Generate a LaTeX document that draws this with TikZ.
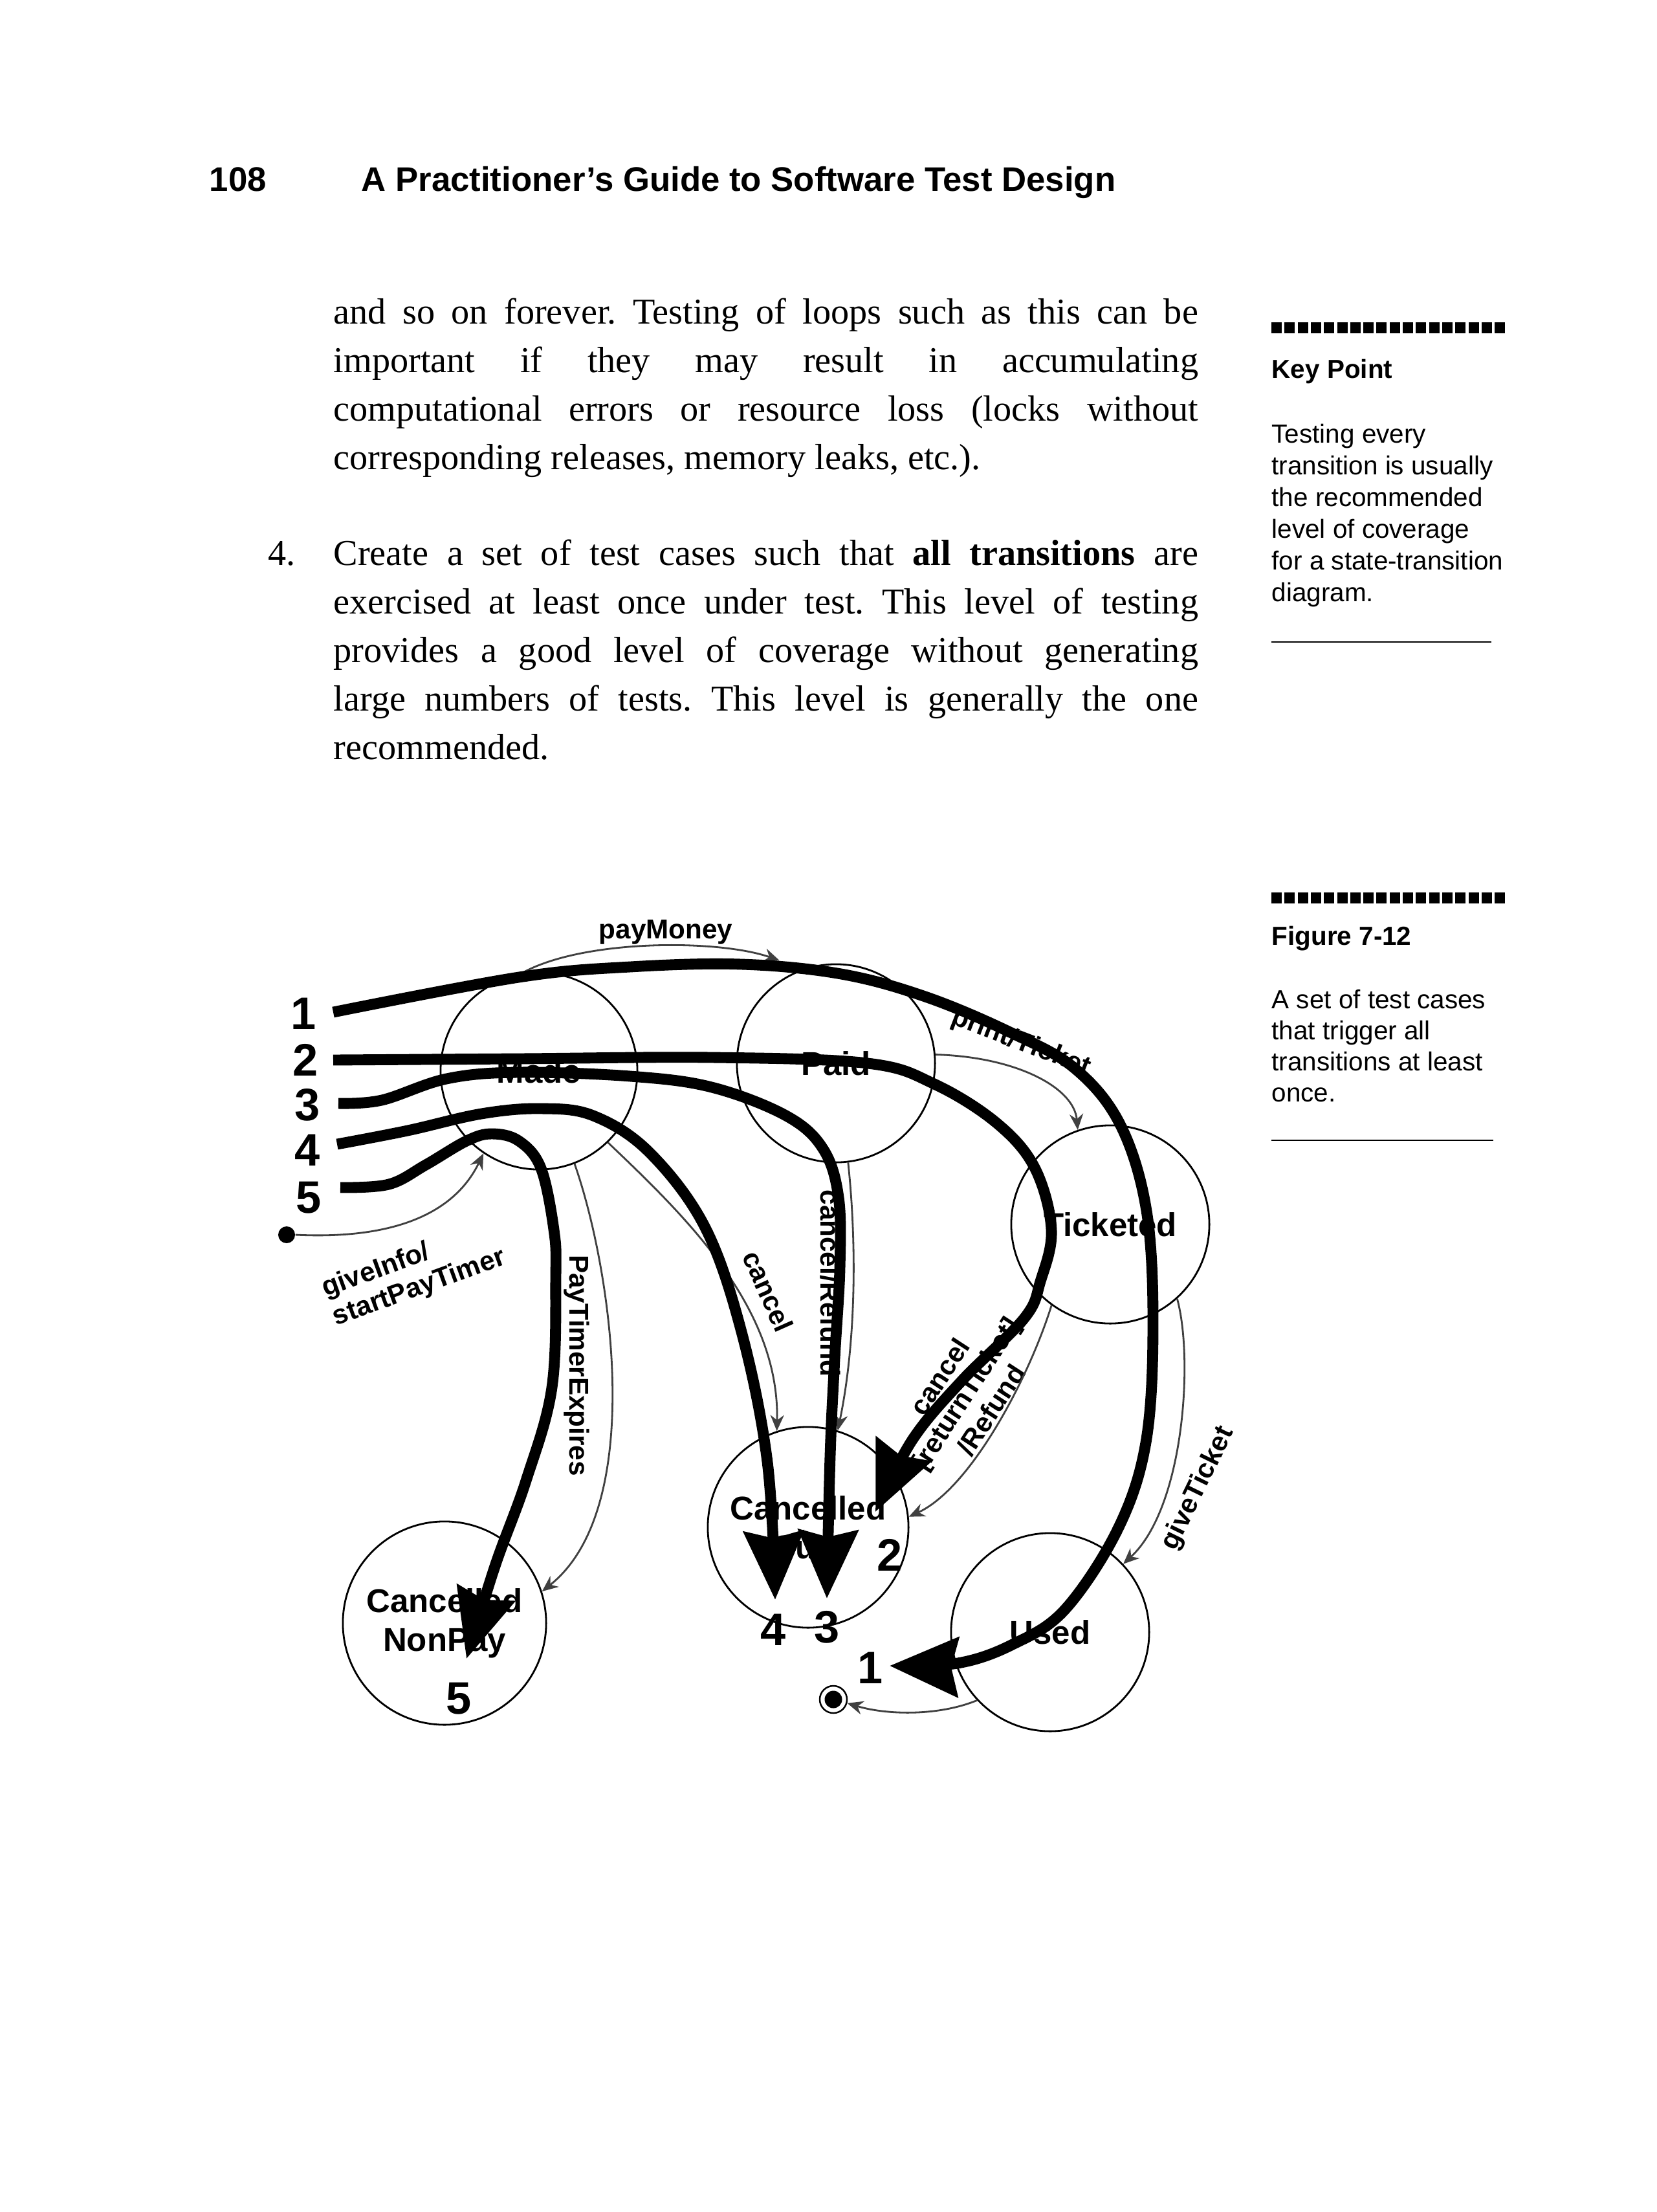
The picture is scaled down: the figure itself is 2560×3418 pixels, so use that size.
\documentclass[tikz,border=0pt]{standalone}
\usepackage{fontspec}
\setmainfont{Liberation Serif}
\newfontfamily\sansf{Liberation Sans}
\usetikzlibrary{arrows.meta}
\newcommand\jl[1]{\makebox[380pt][s]{#1}}
\frenchspacing
\begin{document}
\begin{tikzpicture}[x=0.01cm, y=-0.01cm,
  body/.style={anchor=base west, inner sep=0pt, font=\fontsize{16}{21}\selectfont},
  side/.style={anchor=base west, inner sep=0pt, font=\sansf\fontsize{11.5}{14}\selectfont},
  sidehead/.style={anchor=base west, inner sep=0pt, font=\sansf\bfseries\fontsize{11.5}{14}\selectfont},
  head/.style={anchor=base west, inner sep=0pt, font=\sansf\bfseries\fontsize{15}{15}\selectfont},
  state/.style={circle, draw, line width=0.8pt, inner sep=0pt, align=center,
    font=\sansf\bfseries\fontsize{14.5}{17}\selectfont},
  lab/.style={inner sep=1pt, font=\sansf\bfseries\fontsize{12}{13.5}\selectfont},
  num/.style={inner sep=0pt, font=\sansf\bfseries\fontsize{20}{20}\selectfont},
  thinarr/.style={line width=0.8pt, draw=black!75, -{Stealth[length=7pt,width=6pt]}},
  tp/.style={line width=4.8pt, line join=round, -{Stealth[length=30pt,width=26pt,inset=3pt]}}]

\fill[white] (0,0) rectangle (2560,3418);
\useasboundingbox (0,0) rectangle (2560,3418);

% ---------- header ----------
\node[head] (pgno) at (323,295) {108};
\node[head] (title) at (558,295) {A Practitioner’s Guide to Software Test Design};

% ---------- body text ----------
\node[body] (p1a) at (515,500) {\jl{and so on forever. Testing of loops such as this can be}};
\node[body] (p1b) at (515,575) {\jl{important if they may result in accumulating}};
\node[body] (p1c) at (515,650) {\jl{computational errors or resource loss (locks without}};
\node[body] (p1d) at (515,725) {corresponding releases, memory leaks, etc.).};

\node[body] (p2n) at (414,873) {4.};
\node[body] (p2a) at (515,873) {\jl{Create a set of test cases such that \textbf{all transitions} are}};
\node[body] (p2b) at (515,948) {\jl{exercised at least once under test. This level of testing}};
\node[body] (p2c) at (515,1023) {\jl{provides a good level of coverage without generating}};
\node[body] (p2d) at (515,1098) {\jl{large numbers of tests. This level is generally the one}};
\node[body] (p2e) at (515,1173) {recommended.};

% ---------- side notes ----------
\foreach \i in {0,...,17} {
  \fill (1965+\i*20.3,498) rectangle ++(16,17);
  \fill (1965+\i*20.3,1379) rectangle ++(16,17);
}
\node[sidehead] (kp) at (1965,584) {Key Point};
\node[side] (kp1) at (1965,684) {Testing every};
\node[side] (kp2) at (1965,733) {transition is usually};
\node[side] (kp3) at (1965,782) {the recommended};
\node[side] (kp4) at (1965,831) {level of coverage};
\node[side] (kp5) at (1965,880) {for a state-transition};
\node[side] (kp6) at (1965,929) {diagram.};
\draw[line width=0.8pt] (1965,992) -- (2305,992);

\node[sidehead] (fg) at (1965,1460) {Figure 7-12};
\node[side] (fg1) at (1965,1558) {A set of test cases};
\node[side] (fg2) at (1965,1606) {that trigger all};
\node[side] (fg3) at (1965,1654) {transitions at least};
\node[side] (fg4) at (1965,1702) {once.};
\draw[line width=0.8pt] (1965,1762) -- (2308,1762);

% ---------- states ----------
\node[state, minimum size=3.04cm] (M) at (833,1655) {\raisebox{-9pt}{Made}};
\node[state, minimum size=3.06cm] (P) at (1292,1643) {Paid};
\node[state, minimum size=3.06cm] (T) at (1716,1892) {Ticketed};
\node[state, minimum size=3.14cm] (N) at (687,2508) {Cancelled\\NonPay};
\node[state, minimum size=3.10cm] (C) at (1249,2360) {Cancelled\\Cust};
\node[state, minimum size=3.06cm] (U) at (1623,2522) {Used};
\node[circle, fill, minimum size=0.26cm, inner sep=0pt] (init) at (443,1908) {};
\node[circle, draw, line width=0.7pt, minimum size=0.42cm, inner sep=0pt] (fin) at (1288,2626) {};
\node[circle, fill, minimum size=0.27cm, inner sep=0pt] (fincore) at (fin.center) {};

% ---------- transition labels ----------
\node[lab] (lpay) at (1029,1440) {payMoney};
\node[lab, rotate=-21] (lprint) at (1578,1612) {print/Ticket};
\node[lab, rotate=20, align=left] (lgive) at (640,1968) {giveInfo/\\startPayTimer};
\node[lab, rotate=-90] (lpte) at (891,2110) {PayTimerExpires};
\node[lab, rotate=-66] (lc1) at (1187,1995) {cancel};
\node[lab, rotate=-90] (lcr) at (1283,1983) {cancel/Refund};
\node[lab, rotate=57, align=center] (lcrt) at (1492,2153) {cancel\\{[returnTicket]}\\/Refund};
\node[lab, rotate=64] (lgt) at (1852,2300) {giveTicket};

% ---------- transitions ----------
\draw[thinarr] (init.east) .. controls (600,1915) and (700,1880) .. (M.236);
\draw[thinarr] (M.100) .. controls (900,1451) and (1110,1451) .. ([shift={(-10,-25)}]P.120);
\draw[thinarr] (P.5) .. controls (1570,1633) and (1660,1680) .. (T.109);
\draw[thinarr] (M.291) .. controls (945,1960) and (1000,2330) .. (N.18);
\draw[thinarr] (M.314) .. controls (1060,1880) and (1205,2020) .. (C.108);
\draw[thinarr] (P.277) .. controls (1325,1930) and (1322,2080) .. (C.73);
\draw[thinarr] (T.234) .. controls (1590,2130) and (1500,2300) .. (C.6);
\draw[thinarr] (T.312) .. controls (1845,2100) and (1830,2330) .. (U.43);
\draw[thinarr] (U.223) .. controls (1450,2652) and (1370,2650) .. (fin.-15);

% ---------- test case paths ----------
\node[num] (n1) at (469,1566) {1};
\node[num] (n2) at (472,1638) {2};
\node[num] (n3) at (475,1707) {3};
\node[num] (n4) at (475,1777) {4};
\node[num] (n5) at (477,1851) {5};
\node[num] (m1) at (1345,2577) {1};
\node[num] (m2) at (1375,2403) {2};
\node[num] (m3) at (1278,2514) {3};
\node[num] (m4) at (1195,2518) {4};
\node[num] (m5) at (709,2625) {5};

\coordinate (s1) at (515,1564);
\coordinate (s2) at (515,1638);
\coordinate (s3) at (523,1705);
\coordinate (s4) at (521,1768);
\coordinate (s5) at (526,1835);
\coordinate (e1) at (1375,2574);
\coordinate (e2) at (1353,2336);
\coordinate (e3) at (1278,2470);
\coordinate (e4) at (1198,2472);
\coordinate (e5) at (721,2563);

\draw[tp] plot[smooth, tension=0.6] coordinates {(s1) (802,1510) (974,1494) (1146,1490)
  (1300,1505) (1430,1540) (1559,1594) (1660,1650) (1731,1737) (1772,1871) (1782,2050)
  (1771,2229) (1728,2362) (1646,2487) (1565,2541) (1480,2570) (e1)};
\draw[tp] plot[smooth, tension=0.6] coordinates {(s2) (800,1636) (1100,1634) (1341,1643)
  (1444,1675) (1540,1735) (1599,1804) (1625,1900) (1608,1980) (1583,2037) (1487,2133)
  (1410,2225) (e2)};
\draw[tp] plot[smooth, tension=0.6] coordinates {(s3) (590,1700) (690,1667) (800,1657)
  (974,1663) (1100,1680) (1215,1724) (1272,1775) (1296,1850) (1298,1960) (1290,2100)
  (1283,2250) (e3)};
\draw[tp] plot[smooth, tension=0.6] coordinates {(s4) (630,1747) (744,1721) (836,1713)
  (917,1724) (1003,1780) (1089,1895) (1146,2058) (1186,2259) (e4)};
\draw[tp] plot[smooth, tension=0.6] coordinates {(s5) (601,1830) (658,1800) (721,1763)
  (760,1752) (802,1763) (836,1805) (856,1900) (859,1972) (853,2144) (813,2288)
  (765,2420) (e5)};
\end{tikzpicture}
\end{document}
